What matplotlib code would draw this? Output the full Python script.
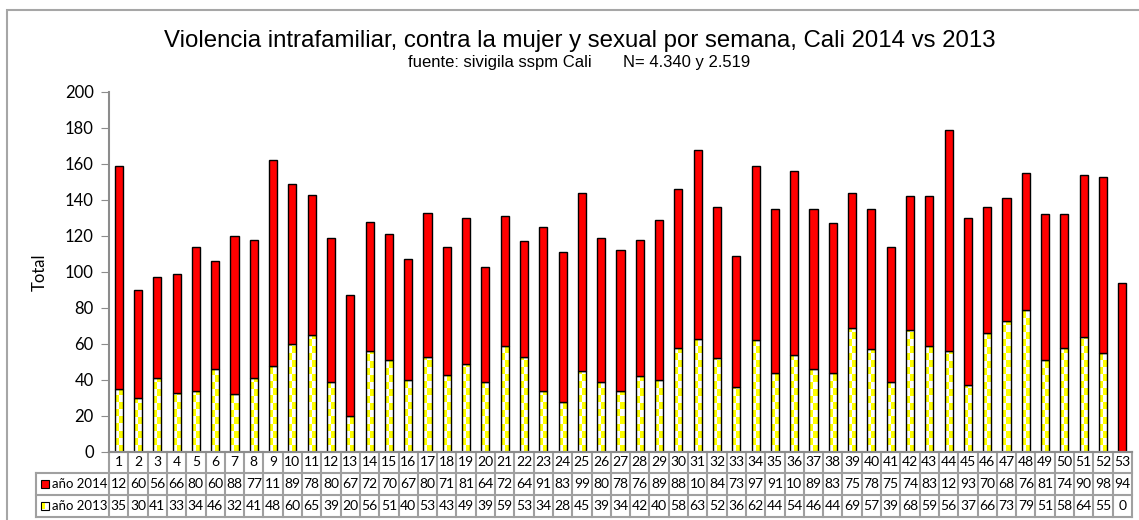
import numpy as np
import matplotlib.pyplot as plt
from matplotlib.patches import Rectangle
from matplotlib.colors import ListedColormap
from matplotlib.transforms import blended_transform_factory

plt.rcParams['font.family'] = ['Liberation Sans', 'DejaVu Sans']

# weekly counts, Cali
weeks = list(range(1, 54))
y2014 = [124, 60, 56, 66, 80, 60, 88, 77, 114, 89,
         78, 80, 67, 72, 70, 67, 80, 71, 81, 64,
         72, 64, 91, 83, 99, 80, 78, 76, 89, 88,
         105, 84, 73, 97, 91, 102, 89, 83, 75, 78,
         75, 74, 83, 123, 93, 70, 68, 76, 81, 74,
         90, 98, 94]
y2013 = [35, 30, 41, 33, 34, 46, 32, 41, 48, 60,
         65, 39, 20, 56, 51, 40, 53, 43, 49, 39,
         59, 53, 34, 28, 45, 39, 34, 42, 40, 58,
         63, 52, 36, 62, 44, 54, 46, 44, 69, 57,
         39, 68, 59, 56, 37, 66, 73, 79, 51, 58,
         64, 55, 0]
row_labels = ['año 2014', 'año 2013']

W, H = 1139, 520
fig = plt.figure(figsize=(W / 100, H / 100), dpi=100)

# outer chart frame
fig.patches.append(Rectangle((7 / W, -0.05), 1.0, 1 - 10 / H + 0.05,
                             transform=fig.transFigure, fill=False,
                             edgecolor='#a6a6a6', linewidth=1.5))

ax = fig.add_axes([109 / W, 1 - 452 / H, (1132 - 109) / W, (452 - 92) / H])

bw = 0.42
bars13 = ax.bar(weeks, y2013, bw, color='white', linewidth=0, zorder=1)
# checkerboard fill (yellow / white) clipped to each 2013 bar
cmap = ListedColormap(['white', '#ffff00'])
nrow = 24
checker = (np.add.outer(np.arange(nrow), np.arange(2)) % 2)[::-1]
cell_h = 3.9
for b in bars13:
    im = ax.imshow(checker, cmap=cmap, interpolation='nearest', aspect='auto',
                   extent=[b.get_x(), b.get_x() + b.get_width(), 0, nrow * cell_h],
                   zorder=1.5)
    im.set_clip_path(b)
ax.bar(weeks, y2013, bw, facecolor='none', edgecolor='black', linewidth=1, zorder=2)
ax.bar(weeks, y2014, bw, bottom=y2013, color='#ff0000', edgecolor='black', linewidth=1,
       zorder=2)

ax.set_xlim(0.5, 53.5)
ax.set_ylim(0, 200)
ax.set_yticks(range(0, 201, 20))
ax.set_xticks([])
ax.tick_params(axis='y', direction='out', length=6, color='#8c8c8c',
               labelsize=12, pad=5)
for t in ax.get_yticklabels():
    t.set_family('Lato')
for s in ['top', 'right']:
    ax.spines[s].set_visible(False)
ax.spines['left'].set_color('#8c8c8c')
ax.spines['bottom'].set_color('#8c8c8c')
ax.spines['left'].set_linewidth(1.5)
ax.spines['bottom'].set_linewidth(1.5)

fig.text(40 / W, 1 - 272 / H, 'Total', rotation=90, ha='center', va='center',
         fontsize=12, family='Lato')

fig.text(580 / W, 1 - 41 / H,
         'Violencia intrafamiliar, contra la mujer y sexual por semana, Cali 2014 vs 2013',
         ha='center', va='center', fontsize=17.3)
fig.text(408 / W, 1 - 63 / H, 'fuente: sivigila sspm Cali',
         ha='left', va='center', fontsize=12)
fig.text(623 / W, 1 - 63 / H, 'N= 4.340 y 2.519',
         ha='left', va='center', fontsize=12)

# data table under the axis
tr = blended_transform_factory(ax.transData, fig.transFigure)
rows_y = [452, 473, 495, 517]
gc = '#a0a0a0'
for i, yp in enumerate(rows_y):
    if i == 0:
        ax.plot([0.5, 53.5], [1 - yp / H] * 2, transform=tr, color=gc, lw=1.5, clip_on=False)
    else:
        fig.add_artist(plt.Line2D([36 / W, 1132 / W], [1 - yp / H] * 2, color=gc, lw=1.5))
for k in range(54):
    ax.plot([k + 0.5] * 2, [1 - 452 / H, 1 - 517 / H], transform=tr, color=gc, lw=1.5,
            clip_on=False)
fig.add_artist(plt.Line2D([36 / W] * 2, [1 - 473 / H, 1 - 517 / H], color=gc, lw=1.5))

fs = 10
tf = 'Lato'
for k, wk in enumerate(weeks):
    ax.text(wk, 1 - 462.5 / H, str(wk), transform=tr, ha='center', va='center',
            fontsize=fs, family=tf)
    # the source table cells are too narrow, 3-digit values show only 2 digits
    ax.text(wk, 1 - 484 / H, str(y2014[k])[:2], transform=tr, ha='center', va='center',
            fontsize=fs, family=tf)
    ax.text(wk, 1 - 506 / H, str(y2013[k])[:2], transform=tr, ha='center', va='center',
            fontsize=fs, family=tf)

for j, (lab, yc) in enumerate(zip(row_labels, [484, 506])):
    fig.text(52 / W, 1 - yc / H, lab, ha='left', va='center', fontsize=9.5, family=tf)
    if j == 0:
        fig.patches.append(Rectangle((41 / W, 1 - (yc + 4) / H), 8 / W, 8 / H,
                                     transform=fig.transFigure, facecolor='#ff0000',
                                     edgecolor='black', linewidth=0.8))
    else:
        fig.patches.append(Rectangle((41 / W, 1 - (yc + 4) / H), 8 / W, 8 / H,
                                     transform=fig.transFigure, facecolor='white',
                                     edgecolor='black', linewidth=0.8))
        fig.patches.append(Rectangle((42 / W, 1 - (yc + 3) / H), 3 / W, 6 / H,
                                     transform=fig.transFigure, facecolor='#ffff00',
                                     edgecolor='none'))

fig.savefig('out.png', dpi=100)
